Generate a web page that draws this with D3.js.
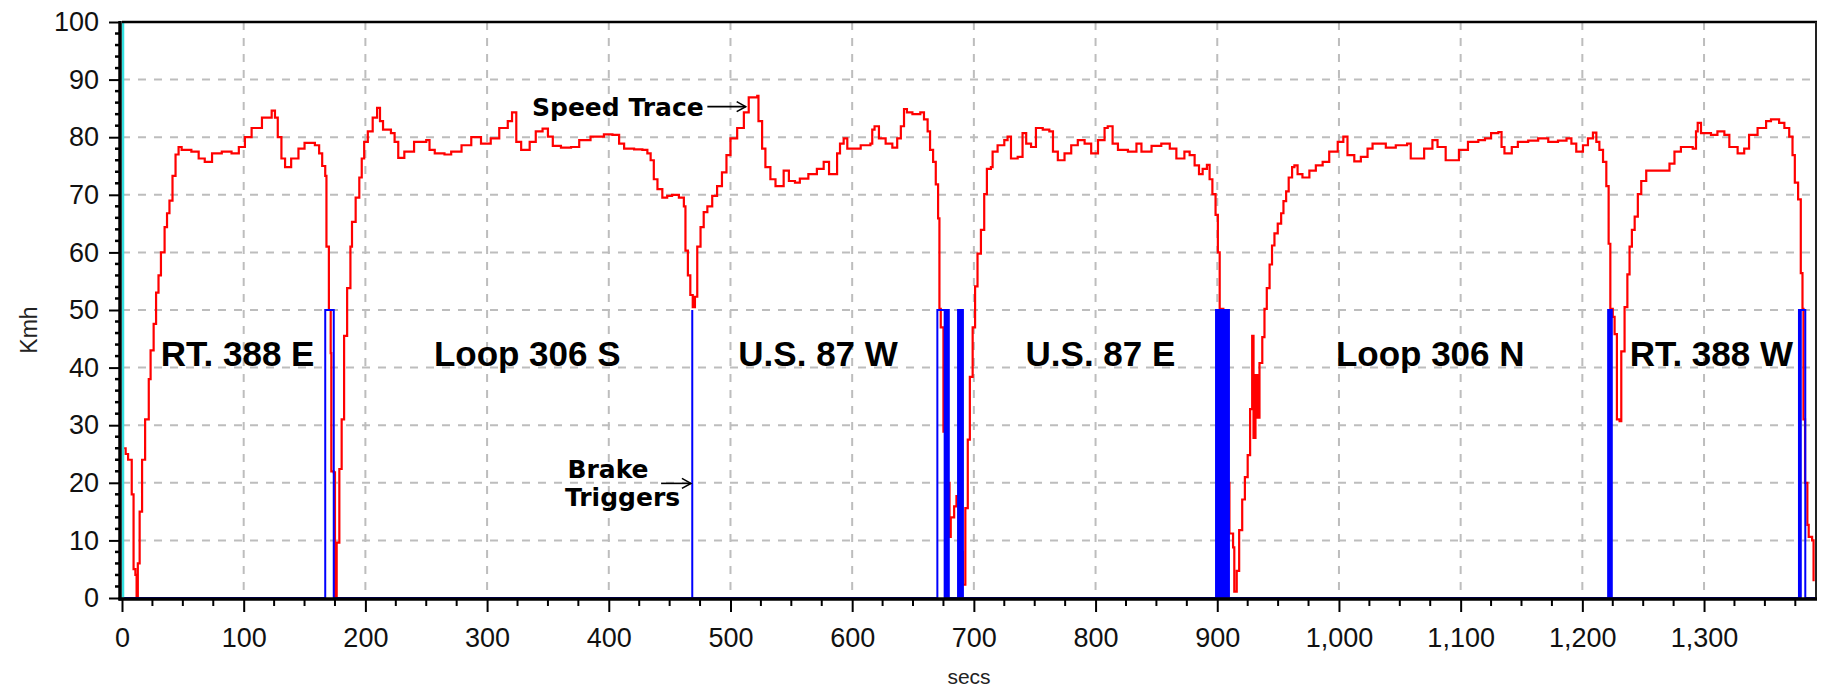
<!DOCTYPE html>
<html>
<head>
<meta charset="utf-8">
<script src="https://cdn.jsdelivr.net/npm/d3@7"></script>
<style>
  body { margin: 0; background: #fff; }
  svg { display: block; }
</style>
</head>
<body>
<script>
// speed trace: secs / Kmh
var speedSecs = [0, 3, 5, 8, 9.5, 11, 12, 13, 14.5, 16.5, 19, 22, 23.5, 26, 28, 30, 32, 35, 37, 39, 41.5, 44, 46.5, 49, 57, 63, 68, 74, 82, 90, 96,
  101, 106.5, 115, 123, 125.7, 128, 131, 134, 139, 145, 150, 158.5, 162, 164.5, 167, 168, 170, 171.5, 172, 174, 175, 176.4, 178.6, 180.5, 182.5, 185, 187.7, 189, 192, 195, 197, 199,
  202, 206, 209.6, 212, 214.5, 221, 224, 227, 232, 240, 250, 252.7, 257, 265, 270.5, 279, 287, 295,
  303, 310, 317, 320.5, 324, 328, 335, 340, 345.6, 350, 354, 360.7, 369, 375.7, 385, 396,
  403, 408.5, 412.6, 420.8, 427.6, 431.7, 434.4, 437, 440, 444, 448, 452, 457.6, 461.7, 463, 465, 467, 469, 470.8, 472.7, 475.4, 478, 481, 485, 489, 493, 496.7,
  500, 505.5, 511, 515, 522, 523, 526, 528.7, 532.8, 537, 543.7, 548, 553, 557, 564, 571, 576.6, 581, 585, 587.6, 590, 593, 596,
  601, 607, 615, 616.5, 618.4, 622, 627.5, 633, 637, 640, 642.6, 645, 649.5, 656, 659, 662, 664, 666.5, 668.7, 670.6, 671.7, 672.8, 675, 677, 680, 681, 683.8, 685.7, 687, 689, 691, 693, 695, 696.7, 699,
  701, 703, 705.8, 708.5, 710.7, 714, 715.4, 719.5, 725, 727.7, 730.5, 736, 740, 743, 747, 751, 756.6, 762, 765, 769, 774.5, 780, 785.4, 791, 796.4,
  802, 807.4, 810, 814, 818.4, 826.6, 833.6, 837.7, 846, 854, 861, 866.4, 873, 877.3, 881.4, 885, 888, 891.5, 893.7, 896, 898.6,
  900.5, 902, 905, 908, 910, 913, 914, 916, 918, 920.5, 922.7, 925, 927, 928.7, 929.8, 931.4, 933, 934.7, 937, 938.8, 940.7, 943, 945, 947, 949.7, 952.5, 954.4, 956.6, 958.7, 961.5, 963.4, 966, 970, 975.7, 981, 986.6, 992, 999,
  1003.6, 1007, 1012.6, 1018, 1023.5, 1027.6, 1035.8, 1038.5, 1046.7, 1056, 1059, 1063, 1070, 1076.8, 1081, 1087.7, 1093, 1098.6,
  1106, 1114.5, 1120, 1125, 1131, 1133.6, 1136, 1142, 1147, 1155.5, 1163.7, 1172, 1180, 1187, 1191, 1195, 1200.5,
  1204.6, 1208.7, 1211.5, 1214, 1217, 1219.7, 1221.6, 1223, 1225, 1226.5, 1228.4, 1230.6, 1232, 1234.7, 1237, 1238.8, 1240.7, 1243, 1245.6, 1248.4, 1252.5, 1258, 1264.8, 1271.6, 1275.7, 1281, 1286.6, 1290.7, 1293.4, 1294.8, 1297.5,
  1305.7, 1311, 1316.7, 1320.8, 1327.6, 1333, 1337, 1344, 1351, 1355, 1361.7, 1366, 1370, 1372.7, 1374.6, 1377.3, 1379.5, 1380.9, 1381.7, 1383, 1384.9, 1386, 1388.8, 1390];
var speedKmh = [26, 25, 24, 18, 5, 4, 0, 6, 15, 24, 31, 38, 43, 47.6, 53, 56, 60, 64.4, 66.8, 69, 73.3, 77, 78.3, 77.8, 77.5, 76.3, 75.7, 77.2, 77.5, 77.2, 78.3,
  80, 81.6, 83.4, 84.6, 83.4, 80, 76.3, 74.8, 76.3, 78, 79, 78.6, 77.2, 75, 73.3, 61, 50, 42.5, 22, 21.8, 0, 9.6, 22.4, 31, 45.5, 53.8, 61, 65.3, 69.5, 73, 76.3, 79.2,
  81, 83.4, 85.1, 82.8, 81.3, 80.7, 79.2, 76.4, 77.5, 79.2, 79.5, 77.8, 77.2, 77, 77.5, 78.6, 80, 78.9,
  79.8, 81.6, 82.8, 84.3, 79.2, 77.8, 79.2, 81, 81.5, 80.1, 78.5, 78.2, 78.3, 79.5, 80.1, 80.5,
  80.4, 78.9, 78, 77.9, 77.8, 77.2, 76, 72.7, 71, 69.5, 69.8, 70, 69.5, 68, 60.3, 56, 52.6, 50.5, 52.3, 61, 64.4, 67, 68, 69.8, 71.5, 73.9, 76.9,
  79.8, 81.6, 84.3, 86.9, 87.2, 82.8, 78, 74.8, 72.7, 71.5, 74.2, 72.4, 72.1, 72.8, 73.6, 74.5, 75.7, 73.6, 73.6, 77.2, 78.9, 79.8, 78,
  78, 78.6, 78.9, 81.3, 81.9, 79.8, 78.9, 78.2, 79.8, 81.9, 84.9, 84.3, 84, 84.3, 83.1, 81, 77.8, 75.7, 71.8, 65.9, 50.2, 47, 28.9, 20, 10.6, 14, 15.9, 17.7, 17.7, 8, 2.3, 15.6, 27.5, 38.4, 47,
  54.1, 59.8, 63.9, 70.1, 74.5, 74.8, 77.5, 78.6, 79.5, 80.1, 76.3, 76.6, 80.7, 78.9, 78.3, 81.6, 81.3, 81, 77.5, 76, 77.2, 78.6, 79.5, 78.9, 77.2,
  79.5, 81.6, 81.9, 78.9, 77.8, 77.5, 78.9, 77.5, 78.5, 78.9, 78, 76.3, 77.5, 76.9, 75.1, 73.6, 74.5, 75.2, 72.7, 70.1, 66.5,
  60, 50.2, 35, 20, 11.2, 8.8, 1.1, 4.7, 11.8, 17.1, 21, 24.8, 32.8, 45.5, 27.8, 38.7, 31.3, 40.8, 45.3, 50.2, 53.8, 57.9, 61.2, 63.3, 65, 66.8, 68.9, 70.6, 73, 74.8, 75.1, 73.6, 73, 74.2, 75.1, 75.7, 77.5, 79.2,
  80.1, 76.9, 75.8, 76.6, 78, 78.9, 78.9, 78.2, 78.6, 78.9, 76.3, 76.3, 78, 79.5, 78.3, 76, 76, 77.8,
  79.2, 79.5, 79.8, 80.7, 80.9, 78.3, 77.2, 78.3, 79.2, 79.4, 79.8, 79.2, 79.4, 79.8, 78.9, 77.5, 78.6,
  79.8, 80.8, 79.2, 77.8, 75.7, 71.5, 61.5, 50.2, 48.8, 45.8, 31, 30.7, 42.8, 50.5, 56.2, 61, 63.9, 66.2, 70.1, 72.4, 74.2, 74.2, 74.2, 75.4, 77.5, 78.3, 78.3, 78, 81, 82.5, 80.7,
  80.4, 81, 80.4, 78.3, 77.2, 78, 80.4, 81.6, 82.8, 83.1, 82.5, 81.6, 80.1, 76.9, 72.1, 69.2, 56.4, 50.2, 31, 20, 12.7, 10.6, 10, 2.9];

// brake trigger pulses (on / off secs), plotted at brakeLevel
var brakeOnSecs  = [167, 468.6, 670, 676.8, 678.4, 687, 688.6, 690.2, 899, 900.6, 902.2, 903.8, 905.4, 907, 908.6, 1221.2, 1222.8, 1378, 1379.5];
var brakeOffSecs = [174, 468.6, 676, 677.6, 679.4, 687.8, 689.4, 691, 899.8, 901.4, 903, 904.6, 906.2, 907.8, 909.6, 1222, 1224.2, 1378.8, 1383.2];
var brakeLevel = 50;

// cursor marker at start of run
var cursorSecs = [0];
var cursorKmh = [100];

var routeNames = ["RT. 388 E", "Loop 306 S", "U.S. 87 W", "U.S. 87 E", "Loop 306 N", "RT. 388 W"];
var routeMidSecs = [95, 333, 572, 804, 1075, 1306];

var secsTicks = [0, 100, 200, 300, 400, 500, 600, 700, 800, 900, 1000, 1100, 1200, 1300];
var kmhTicks = [0, 10, 20, 30, 40, 50, 60, 70, 80, 90, 100];

var width = 1826;
var height = 689;
var margin = {left: 122, top: 22, right: 10, bottom: 91};

var svg = d3.select("body").append("svg").attr("width", width).attr("height", height);

var x = d3.scaleLinear().domain([0, 1392]).range([margin.left, width - margin.right]);
var y = d3.scaleLinear().domain([0, 100]).range([height - margin.bottom, margin.top]);

var plotL = x(0), plotR = x(1392), plotT = y(100), plotB = y(0);

// dashed grid
svg.append("g").selectAll("line").data(kmhTicks.filter(function(d){ return d > 0 && d < 100; }))
  .enter().append("line")
  .attr("x1", plotL).attr("x2", plotR)
  .attr("y1", function(d){ return y(d); }).attr("y2", function(d){ return y(d); })
  .attr("stroke", "#bdbdbd").attr("stroke-width", 2).attr("stroke-dasharray", "8,8");

svg.append("g").selectAll("line").data(secsTicks.filter(function(d){ return d > 0; }))
  .enter().append("line")
  .attr("x1", function(d){ return x(d); }).attr("x2", function(d){ return x(d); })
  .attr("y1", plotT).attr("y2", plotB)
  .attr("stroke", "#bdbdbd").attr("stroke-width", 2).attr("stroke-dasharray", "8,8");

// speed trace
var speedData = speedSecs.map(function(s, i){ return {secs: s, kmh: speedKmh[i]}; });
var speedLine = d3.line()
  .x(function(d){ return x(d.secs); })
  .y(function(d){ return y(d.kmh); })
  .curve(d3.curveStepAfter);

svg.append("path").datum(speedData)
  .attr("d", speedLine)
  .attr("fill", "none")
  .attr("stroke", "#ff0000")
  .attr("stroke-width", 2.2);

// brake triggers as a 0 / brakeLevel square wave
var brakeData = [{secs: 0, kmh: 0}];
brakeOnSecs.forEach(function(on, i){
  brakeData.push({secs: on, kmh: 0});
  brakeData.push({secs: on, kmh: brakeLevel});
  brakeData.push({secs: brakeOffSecs[i], kmh: brakeLevel});
  brakeData.push({secs: brakeOffSecs[i], kmh: 0});
});
brakeData.push({secs: 1392, kmh: 0});

var brakeLine = d3.line()
  .x(function(d){ return x(d.secs); })
  .y(function(d){ return y(d.kmh); });

svg.append("path").datum(brakeData)
  .attr("d", brakeLine)
  .attr("fill", "none")
  .attr("stroke", "#0000ff")
  .attr("stroke-width", 2);

// cyan cursor
svg.append("g").selectAll("line").data(cursorSecs)
  .enter().append("line")
  .attr("x1", function(d){ return x(d) + 1; }).attr("x2", function(d){ return x(d) + 1; })
  .attr("y1", y(0)).attr("y2", function(d, i){ return y(cursorKmh[i]); })
  .attr("stroke", "#33e0e0").attr("stroke-width", 2.5);

// frame
svg.append("line").attr("x1", plotL).attr("x2", plotR + 1).attr("y1", plotT).attr("y2", plotT)
  .attr("stroke", "#000").attr("stroke-width", 2.5);
svg.append("line").attr("x1", plotR).attr("x2", plotR).attr("y1", plotT).attr("y2", plotB)
  .attr("stroke", "#222").attr("stroke-width", 2);

// axes
var minorSecs = d3.range(0, 1392, 25).filter(function(d){ return d % 100 !== 0; });
var minorKmh = d3.range(0, 100, 2).filter(function(d){ return d % 10 !== 0; });

var xAxis = svg.append("g").attr("transform", "translate(0," + (plotB + 1) + ")")
  .call(d3.axisBottom(x).tickValues(secsTicks).tickFormat(d3.format(",")).tickSize(13).tickPadding(16));
xAxis.select(".domain").remove();
xAxis.selectAll(".tick line").attr("stroke", "#000").attr("stroke-width", 2);
xAxis.selectAll(".tick text").attr("font-family", "Liberation Sans, Arial, sans-serif").attr("font-size", 27).attr("fill", "#111");
xAxis.selectAll(".minor").data(minorSecs).enter().append("line")
  .attr("x1", function(d){ return x(d); }).attr("x2", function(d){ return x(d); })
  .attr("y1", 0).attr("y2", 7).attr("stroke", "#000").attr("stroke-width", 2);

var yAxis = svg.append("g").attr("transform", "translate(" + (plotL - 2) + ",0)")
  .call(d3.axisLeft(y).tickValues(kmhTicks).tickSize(11).tickPadding(10));
yAxis.select(".domain").remove();
yAxis.selectAll(".tick line").attr("stroke", "#000").attr("stroke-width", 2);
yAxis.selectAll(".tick text").attr("font-family", "Liberation Sans, Arial, sans-serif").attr("font-size", 27).attr("fill", "#111");
yAxis.selectAll(".minor").data(minorKmh).enter().append("line")
  .attr("y1", function(d){ return y(d); }).attr("y2", function(d){ return y(d); })
  .attr("x1", 0).attr("x2", -5).attr("stroke", "#000").attr("stroke-width", 2.5);

// heavy axis lines
svg.append("line").attr("x1", plotL - 2).attr("x2", plotL - 2).attr("y1", plotT - 1).attr("y2", plotB + 2.5)
  .attr("stroke", "#000").attr("stroke-width", 3.5);
svg.append("line").attr("x1", plotL - 3.5).attr("x2", plotR + 1).attr("y1", plotB + 1).attr("y2", plotB + 1)
  .attr("stroke", "#000").attr("stroke-width", 3.5);

// axis titles
svg.append("text").attr("transform", "translate(37," + ((plotT + plotB) / 2 + 20) + ") rotate(-90)")
  .attr("text-anchor", "middle").attr("font-family", "Liberation Sans, Arial, sans-serif")
  .attr("font-size", 23).attr("fill", "#222").text("Kmh");
svg.append("text").attr("x", (plotL + plotR) / 2).attr("y", 684)
  .attr("text-anchor", "middle").attr("font-family", "Liberation Sans, Arial, sans-serif")
  .attr("font-size", 21).attr("fill", "#222").text("secs");

// route segment labels
svg.append("g").selectAll("text").data(routeNames)
  .enter().append("text")
  .attr("x", function(d, i){ return x(routeMidSecs[i]); })
  .attr("y", y(40.3))
  .attr("text-anchor", "middle")
  .attr("font-family", "Liberation Sans, Arial, sans-serif")
  .attr("font-weight", "bold")
  .attr("font-size", 35)
  .attr("fill", "#000")
  .text(function(d){ return d; });

// callouts
var noteFont = "DejaVu Sans, Verdana, sans-serif";

function arrow(x1, x2, yy) {
  svg.append("line").attr("x1", x1).attr("x2", x2).attr("y1", yy).attr("y2", yy)
    .attr("stroke", "#000").attr("stroke-width", 1.6);
  svg.append("path").attr("d", "M" + (x2 - 9) + "," + (yy - 5) + "L" + x2 + "," + yy + "L" + (x2 - 9) + "," + (yy + 5))
    .attr("fill", "none").attr("stroke", "#000").attr("stroke-width", 1.6);
}

svg.append("text").attr("x", x(478)).attr("y", y(83.7))
  .attr("text-anchor", "end").attr("font-family", noteFont).attr("font-weight", "bold")
  .attr("font-size", 25).text("Speed Trace");
arrow(x(481), x(512.5), y(85.3));

svg.append("text").attr("x", x(366)).attr("y", y(20.9))
  .attr("font-family", noteFont).attr("font-weight", "bold")
  .attr("font-size", 25).text("Brake");
svg.append("text").attr("x", x(364)).attr("y", y(15.9))
  .attr("font-family", noteFont).attr("font-weight", "bold")
  .attr("font-size", 25).text("Triggers");
arrow(x(443), x(467.5), y(19.9));
</script>
</body>
</html>
